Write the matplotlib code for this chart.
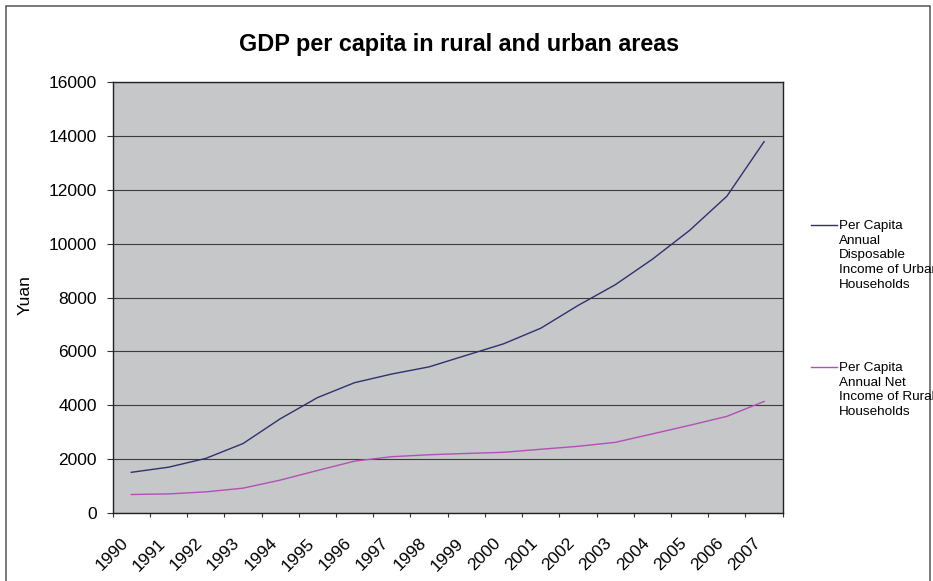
import matplotlib.pyplot as plt
from matplotlib.lines import Line2D
from matplotlib.patches import Rectangle
from matplotlib.transforms import ScaledTranslation

# Dochody na mieszkańca w Chinach, 1990-2007 (juany)
years = [str(y) for y in range(1990, 2008)]
urban = [1510.2, 1700.6, 2026.6, 2577.4, 3496.2, 4283.0, 4838.9, 5160.3, 5425.1,
         5854.0, 6280.0, 6859.6, 7702.8, 8472.2, 9421.6, 10493.0, 11759.5, 13785.8]
rural = [686.3, 708.6, 784.0, 921.6, 1221.0, 1577.7, 1926.1, 2090.1, 2162.0,
         2210.3, 2253.4, 2366.4, 2475.6, 2622.2, 2936.4, 3254.9, 3587.0, 4140.4]
series_names = ["Per Capita\nAnnual\nDisposable\nIncome of Urban\nHouseholds",
                "Per Capita\nAnnual Net\nIncome of Rural\nHouseholds"]
series_colors = ["#30306e", "#b450b4"]
y_ticks = list(range(0, 16001, 2000))

plt.rcParams['font.family'] = ['Liberation Sans', 'DejaVu Sans']

W, H = 933, 581
fig = plt.figure(figsize=(W / 100, H / 100), dpi=100)

# obszar wykresu w pikselach: x 112.7..782.7, y 82..513 (od góry)
ax = fig.add_axes([112.7 / W, 1 - 513 / H, 670 / W, 431 / H])
ax.set_facecolor("#c6c7c9")

x = list(range(len(years)))
for vals, col in zip([urban, rural], series_colors):
    ax.plot(x, vals, color=col, lw=1.0, zorder=3)

ax.set_xlim(-0.5, len(years) - 0.5)
ax.set_ylim(0, 16000)
ax.set_yticks(y_ticks)
ax.set_yticklabels([str(v) for v in y_ticks], fontsize=12.5)
ax.tick_params(axis='y', length=4.5, width=0.8, pad=7, color="#333333")
ax.grid(axis='y', color="#3c3c3c", lw=0.8, zorder=1)

# kreski na granicach kategorii, etykiety na środkach
ax.set_xticks([i - 0.5 for i in range(len(years) + 1)])
ax.set_xticklabels([])
ax.tick_params(axis='x', which='major', length=3, width=0.8, color="#333333")
ax.set_xticks(x, minor=True)
ax.set_xticklabels(years, minor=True, fontsize=12.5, rotation=45,
                   ha='right', va='center', rotation_mode='anchor')
ax.tick_params(axis='x', which='minor', length=0, pad=20)
shift = ScaledTranslation(-4 / 72, 0, fig.dpi_scale_trans)
for lab in ax.get_xticklabels(minor=True):
    lab.set_transform(lab.get_transform() + shift)

for s in ax.spines.values():
    s.set_color("#222222")
    s.set_linewidth(1.0)

fig.text(25 / W, 1 - 295 / H, "Yuan", rotation=90, fontsize=12.5,
         ha='center', va='center')

fig.text(459 / W, 1 - 45 / H, "GDP per capita in rural and urban areas",
         fontsize=16.8, fontweight='bold', ha='center', va='center')

# legenda po prawej stronie
for ypix, name, col in zip([225, 367], series_names, series_colors):
    fig.add_artist(Line2D([811 / W, 837 / W], [1 - ypix / H, 1 - ypix / H],
                          color=col, lw=1.0, transform=fig.transFigure))
    fig.text(839 / W, 1 - (ypix - 5) / H, name, fontsize=9.7,
             ha='left', va='top', linespacing=1.3)

# ramka wokół całego wykresu
fig.add_artist(Rectangle((6 / W, -10 / H), 924 / W, (H - 5.7 + 10) / H,
                         fill=False, edgecolor="#555555", lw=1.1,
                         transform=fig.transFigure))

fig.savefig("out.png", dpi=100)
